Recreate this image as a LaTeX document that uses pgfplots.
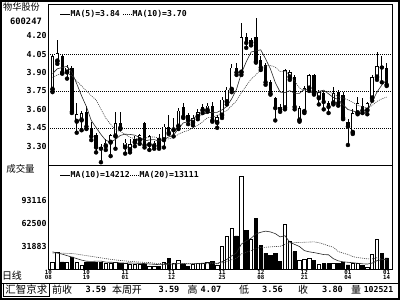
\documentclass[border=0pt]{standalone}
\usepackage{fontspec}
\setmainfont{DejaVu Sans Mono}
\newfontfamily\cjk{Noto Sans CJK SC}
\usepackage{pgfplots}
\usepackage{pgfplotstable}
\pgfplotsset{compat=1.18}

% up (hollow) candles: index, open, high, low, close, volume
\pgfplotstableread{
i O H L C V
0 3.76 4.05 3.74 4.03 9500
1 3.99 4.16 3.97 4.06 23000
3 3.90 3.96 3.85 3.94 10500
5 3.50 3.65 3.41 3.56 10000
6 3.51 3.59 3.43 3.57 6000
11 3.30 3.36 3.27 3.33 9000
12 3.33 3.40 3.22 3.39 9000
13 3.38 3.58 3.28 3.49 9500
15 3.29 3.36 3.24 3.33 8500
16 3.27 3.36 3.25 3.32 7000
17 3.33 3.38 3.30 3.36 7800
18 3.35 3.40 3.32 3.39 7000
20 3.31 3.39 3.27 3.38 4200
21 3.30 3.34 3.28 3.33 4200
23 3.35 3.48 3.29 3.46 9500
25 3.43 3.53 3.38 3.45 9000
26 3.46 3.61 3.44 3.59 13100
29 3.49 3.55 3.47 3.53 7800
30 3.54 3.60 3.52 3.58 8500
31 3.59 3.64 3.57 3.62 8500
32 3.59 3.65 3.58 3.63 10000
34 3.49 3.55 3.45 3.54 6500
35 3.55 3.70 3.53 3.68 30900
36 3.66 3.78 3.64 3.76 44400
37 3.76 3.97 3.74 3.94 55000
39 3.90 4.30 3.88 4.19 124800
41 4.14 4.18 4.12 4.16 40900
48 3.61 3.93 3.60 3.92 61400
49 3.86 3.92 3.84 3.90 37500
51 3.51 3.63 3.50 3.61 12000
52 3.58 3.79 3.57 3.77 14500
53 3.77 3.89 3.75 3.88 16000
55 3.69 3.76 3.64 3.74 7000
58 3.65 3.78 3.64 3.73 9000
62 3.41 3.60 3.40 3.57 8300
63 3.57 3.70 3.56 3.65 8800
65 3.59 3.66 3.56 3.65 3000
66 3.69 3.88 3.67 3.86 21000
67 3.86 4.07 3.84 3.95 40500
}\up

% down (black) candles
\pgfplotstableread{
i O H L C V
2 4.03 4.05 3.89 3.90 10500
4 3.94 3.95 3.57 3.58 17300
7 3.58 3.63 3.44 3.46 9500
8 3.45 3.50 3.35 3.38 9500
9 3.39 3.41 3.25 3.29 10000
10 3.29 3.32 3.17 3.28 10000
14 3.49 3.58 3.44 3.45 9000
19 3.49 3.50 3.29 3.31 7000
22 3.37 3.40 3.28 3.30 5000
24 3.46 3.55 3.40 3.41 15400
27 3.62 3.65 3.53 3.54 7000
28 3.55 3.57 3.48 3.51 4500
33 3.63 3.66 3.50 3.51 10850
38 3.94 3.98 3.88 3.90 45300
40 4.19 4.22 4.10 4.14 53300
42 4.19 4.34 3.98 3.99 68300
43 4.00 4.03 3.92 3.94 33200
44 3.96 3.98 3.80 3.82 22100
45 3.82 3.84 3.72 3.73 19800
46 3.69 3.70 3.51 3.61 22100
47 3.62 3.64 3.58 3.60 10850
50 3.86 3.88 3.60 3.62 24100
54 3.88 3.89 3.72 3.73 12500
56 3.73 3.75 3.60 3.66 8000
57 3.65 3.67 3.57 3.62 8000
59 3.74 3.76 3.63 3.65 9000
60 3.72 3.74 3.52 3.53 10500
61 3.50 3.52 3.31 3.46 6500
64 3.63 3.69 3.57 3.59 5500
68 3.95 4.03 3.82 3.94 22000
69 3.94 3.98 3.79 3.80 16000
}\down

% moving averages: price MA5, MA10; volume MA10, MA20
\pgfplotstableread{
i ma5 ma10 vma10 vma20
0 3.89 3.86 24000 22500
1 3.93 3.88 22500 22500
2 3.94 3.89 21000 22300
3 3.95 3.90 19000 22000
4 3.902 3.87 17000 21800
5 3.808 3.83 15000 21000
6 3.710 3.79 13000 20000
7 3.622 3.75 11500 19000
8 3.510 3.71 11200 18000
9 3.452 3.677 11580 17000
10 3.396 3.602 11630 16000
11 3.348 3.529 10230 15000
12 3.334 3.478 10080 14000
13 3.356 3.433 9980 13200
14 3.388 3.420 9150 12500
15 3.398 3.397 9000 11900
16 3.396 3.372 9100 11300
17 3.390 3.362 8930 10800
18 3.370 3.363 8680 10400
19 3.342 3.365 8380 9980
20 3.352 3.375 7800 9715
21 3.354 3.375 7320 8775
22 3.342 3.366 6920 8500
23 3.356 3.363 6920 8450
24 3.376 3.359 7560 8355
25 3.390 3.371 7610 8305
26 3.442 3.398 8220 8660
27 3.490 3.416 8140 8535
28 3.500 3.428 7890 8285
29 3.524 3.450 7970 8175
30 3.550 3.470 8400 8100
31 3.556 3.499 8830 8075
32 3.574 3.532 9330 8125
33 3.574 3.537 9465 8193
34 3.576 3.550 8575 8068
35 3.596 3.573 10765 9188
36 3.624 3.590 13895 11058
37 3.686 3.630 18695 13418
38 3.764 3.669 22775 15333
39 3.894 3.735 34475 21223
40 3.986 3.791 38955 23678
41 4.066 3.845 42195 25513
42 4.076 3.881 48025 28678
43 4.084 3.924 50260 29863
44 4.010 3.952 51820 30198
45 3.928 3.957 50710 30738
46 3.818 3.942 48480 31188
47 3.740 3.908 44065 31380
48 3.736 3.910 45675 34225
49 3.752 3.881 36945 35710
50 3.730 3.829 34025 36490
51 3.730 3.774 31135 36665
52 3.764 3.752 25755 36890
53 3.756 3.746 24035 37148
54 3.722 3.737 23075 37448
55 3.746 3.738 21795 36253
56 3.756 3.743 20385 34433
57 3.726 3.745 20100 32083
58 3.696 3.726 14860 30268
59 3.680 3.701 12010 24478
60 3.638 3.692 10650 22338
61 3.598 3.677 10100 20618
62 3.588 3.657 9480 17618
63 3.572 3.634 8760 16398
64 3.560 3.620 8060 15568
65 3.584 3.611 7660 14728
66 3.664 3.631 8960 14673
67 3.740 3.664 12210 16155
68 3.798 3.685 13510 14185
69 3.840 3.700 14210 13110
}\ma

\pgfplotsset{
  wick/.style={only marks, mark=none, forget plot,
    error bars/.cd, y dir=plus, y explicit, error mark=none,
    error bar style={line width=0.8bp, draw=black}},
  body/.style 2 args={only marks, mark=none, forget plot,
    error bars/.cd, y dir=plus, y explicit, error mark=none,
    error bar style={line width=#1, draw=#2}},
}

\begin{document}
\begin{tikzpicture}
\path[use as bounding box] (0,0) rectangle (400bp,300bp);

% ---------- price panel ----------
\begin{axis}[
  at={(48.3bp,135bp)}, anchor=south west,
  scale only axis, width=343.7bp, height=160.5bp,
  xmin=-0.87, xmax=70.1, ymin=3.1476, ymax=4.4524,
  axis line style={line width=0.8bp, black},
  xtick=\empty,
  ytick={3.30,3.45,3.60,3.75,3.90,4.05,4.20},
  yticklabels={3.30,3.45,3.60,3.75,3.90,4.05,4.20},
  major tick length=0pt,
  yticklabel style={font=\bfseries\fontsize{8.3}{9}\selectfont, inner sep=1.5bp},
  extra y ticks={3.45,3.75,4.05},
  extra y tick labels={},
  extra y tick style={grid=major, major grid style={black, line width=0.6bp, dash pattern=on 1bp off 1bp}},
]
\addplot[wick] table[x=i, y=L, y error expr=\thisrow{H}-\thisrow{L}] {\up};
\addplot[wick] table[x=i, y=L, y error expr=\thisrow{H}-\thisrow{L}] {\down};
\addplot[body={3.4bp}{black}] table[x=i, y=C, y error expr=\thisrow{O}-\thisrow{C}] {\down};
\addplot[body={3.4bp}{black}] table[x=i, y=O, y error expr=\thisrow{C}-\thisrow{O}] {\up};
\addplot[body={1.8bp}{white}] table[x=i, y expr=\thisrow{O}+0.0065, y error expr=\thisrow{C}-\thisrow{O}-0.013] {\up};
\addplot[black!85, line width=0.6bp] table[x=i, y=ma5] {\ma};
\addplot[black!75, line width=0.6bp, dash pattern=on 1bp off 1bp] table[x=i, y=ma10] {\ma};
\end{axis}

% ---------- volume panel ----------
\begin{axis}[
  at={(48.3bp,30.2bp)}, anchor=south west,
  scale only axis, width=343.7bp, height=104.8bp,
  xmin=-0.87, xmax=70.1, ymin=0, ymax=140400,
  axis line style={line width=0.8bp, black},
  xtick={-0.85,7,15,24.6,35,43,52,61,69},
  xticklabels={{10\\08},{10\\19},{11\\01},{11\\12},{11\\25},{12\\08},{12\\21},{01\\04},{01\\14}},
  xticklabel style={font=\bfseries\fontsize{5.8}{4.9}\selectfont, align=center, inner sep=0.6bp},
  ytick={31883,62500,93116},
  yticklabels={31883,62500,93116},
  scaled y ticks=false,
  major tick length=0pt,
  yticklabel style={font=\bfseries\fontsize{8.3}{9}\selectfont, inner sep=1.5bp},
]
\addplot[ybar, bar width=3.4bp, bar shift=0pt, fill=white, draw=black, line width=0.7bp] table[x=i, y=V] {\up};
\addplot[ybar, bar width=3.4bp, bar shift=0pt, fill=black, draw=black, line width=0.7bp] table[x=i, y=V] {\down};
\addplot[black!85, line width=0.6bp] table[x=i, y=vma10] {\ma};
\addplot[black!75, line width=0.6bp, dash pattern=on 1bp off 1bp] table[x=i, y=vma20] {\ma};
\end{axis}

% ---------- frame, labels, legends ----------
\draw[line width=2bp] (1bp,1bp) rectangle (399bp,299bp);
\draw[line width=0.8bp] (2bp,17bp) -- (398bp,17bp);
\draw[line width=0.8bp] (3.3bp,17bp) rectangle (49.3bp,3.8bp);

\node[font=\cjk\fontsize{9.2}{10}\selectfont, inner sep=0] at (21.5bp,292.8bp) {物华股份};
\node[font=\bfseries\fontsize{8.8}{9}\selectfont, inner sep=0] at (26bp,278.5bp) {600247};

\draw[line width=0.8bp] (60bp,286bp) -- (69.5bp,286bp);
\node[anchor=west, inner sep=0, font=\bfseries\fontsize{8.2}{9}\selectfont] at (70.5bp,286bp) {MA(5)=3.84};
\draw[line width=0.8bp, dash pattern=on 1bp off 1bp] (123bp,286bp) -- (132bp,286bp);
\node[anchor=west, inner sep=0, font=\bfseries\fontsize{8.2}{9}\selectfont] at (132.5bp,286bp) {MA(10)=3.70};

\node[font=\cjk\fontsize{9.5}{10}\selectfont, inner sep=0] at (20.5bp,131bp) {成交量};
\draw[line width=0.8bp] (60bp,125bp) -- (69.5bp,125bp);
\node[anchor=west, inner sep=0, font=\bfseries\fontsize{8.2}{9}\selectfont] at (70.5bp,125bp) {MA(10)=14212};
\draw[line width=0.8bp, dash pattern=on 1bp off 1bp] (130bp,125bp) -- (139bp,125bp);
\node[anchor=west, inner sep=0, font=\bfseries\fontsize{8.2}{9}\selectfont] at (139.5bp,125bp) {MA(20)=13111};

\node[font=\cjk\fontsize{10}{10}\selectfont, inner sep=0] at (12bp,24bp) {日线};

\begin{scope}[every node/.style={inner sep=0}]
\node[font=\cjk\fontsize{10.5}{11}\selectfont] at (26.3bp,10.5bp) {汇智京求};
\node[font=\cjk\fontsize{10}{11}\selectfont] at (62bp,10.5bp) {前收};
\node[font=\bfseries\fontsize{8.6}{9}\selectfont] at (96bp,10.5bp) {3.59};
\node[font=\cjk\fontsize{10}{11}\selectfont] at (127bp,10.5bp) {本周开};
\node[font=\bfseries\fontsize{8.6}{9}\selectfont] at (169bp,10.5bp) {3.59};
\node[font=\cjk\fontsize{10}{11}\selectfont] at (192.5bp,10.5bp) {高};
\node[font=\bfseries\fontsize{8.6}{9}\selectfont] at (211bp,10.5bp) {4.07};
\node[font=\cjk\fontsize{10}{11}\selectfont] at (244bp,10.5bp) {低};
\node[font=\bfseries\fontsize{8.6}{9}\selectfont] at (272.5bp,10.5bp) {3.56};
\node[font=\cjk\fontsize{10}{11}\selectfont] at (303bp,10.5bp) {收};
\node[font=\bfseries\fontsize{8.6}{9}\selectfont] at (332.5bp,10.5bp) {3.80};
\node[font=\cjk\fontsize{10}{11}\selectfont] at (356bp,10.5bp) {量};
\node[font=\bfseries\fontsize{8.2}{9}\selectfont] at (378.5bp,10.5bp) {102521};
\end{scope}
\end{tikzpicture}
\end{document}
